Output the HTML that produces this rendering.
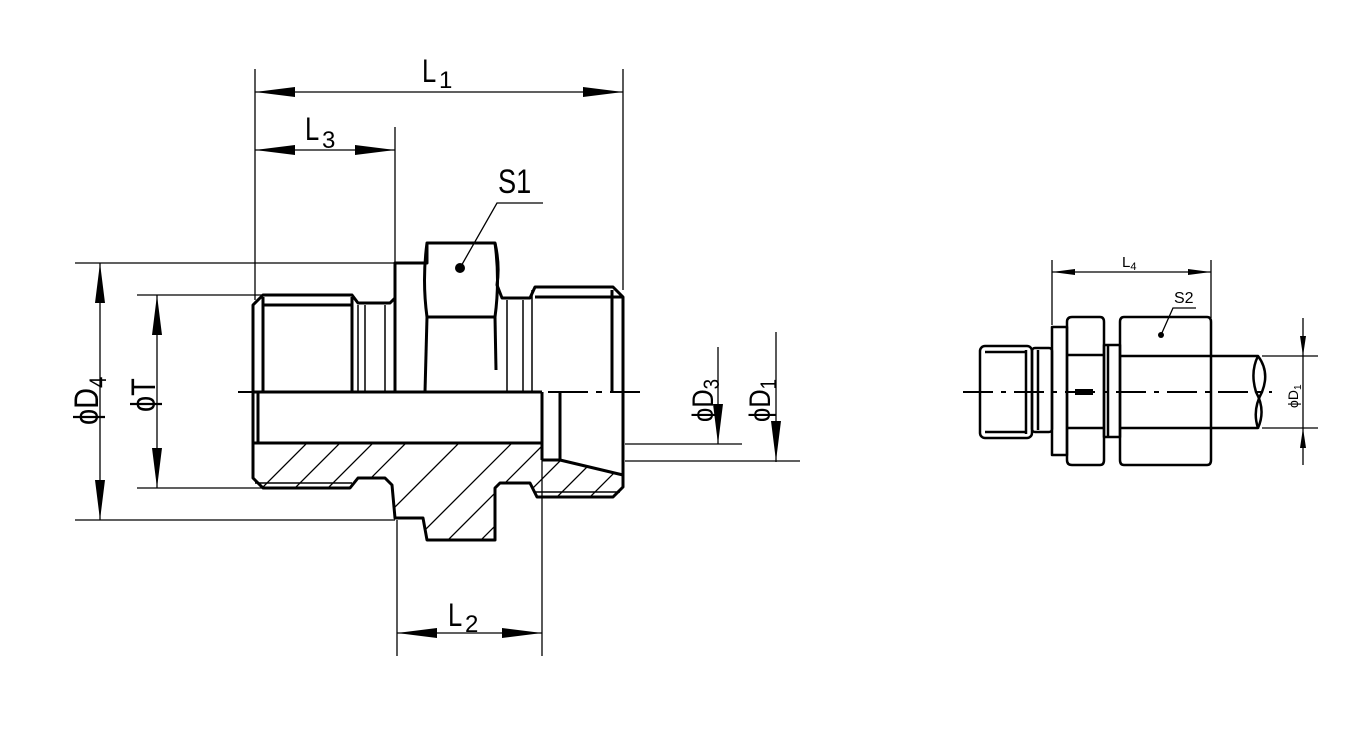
<!DOCTYPE html>
<html><head><meta charset="utf-8"><style>
html,body{margin:0;padding:0;background:#fff;}
svg{display:block;}
text{font-family:"Liberation Sans",sans-serif;fill:#000;}
</style></head><body>
<svg width="1371" height="730" viewBox="0 0 1371 730" xmlns="http://www.w3.org/2000/svg">
<defs>
<clipPath id="sec">
<path d="M253,443 L542,443 L542,460 L560,460 L623,475 L623,487 L613,497 L537,497 L530,483 L500,483 L495,488 L495,540 L427,540 L423,518 L395,518 L392,485 L385,478 L358,478 L350,488 L263,488 L253,478 Z"/>
</clipPath>
</defs>
<g stroke="#000" fill="none">
<g stroke-width="1.3">
<line x1="255" y1="69" x2="255" y2="300"/>
<line x1="623" y1="69" x2="623" y2="290"/>
<line x1="255" y1="92" x2="623" y2="92"/>
<line x1="395" y1="127" x2="395" y2="263"/>
<line x1="255" y1="150" x2="395" y2="150"/>
<polyline points="460,268 497,203 543,203"/>
<line x1="397" y1="520" x2="397" y2="656"/>
<line x1="542" y1="392" x2="542" y2="656"/>
<line x1="397" y1="633" x2="542" y2="633"/>
<line x1="75" y1="263" x2="395" y2="263"/>
<line x1="75" y1="520" x2="395" y2="520"/>
<line x1="100" y1="263" x2="100" y2="520"/>
<line x1="137" y1="295" x2="263" y2="295"/>
<line x1="137" y1="488" x2="263" y2="488"/>
<line x1="157" y1="295" x2="157" y2="488"/>
<line x1="718" y1="347" x2="718" y2="444"/>
<line x1="625" y1="444" x2="742" y2="444"/>
<line x1="776" y1="332" x2="776" y2="462"/>
<line x1="625" y1="461" x2="800" y2="461"/>
</g>
<line x1="238" y1="392" x2="640" y2="392" stroke-width="2" stroke-dasharray="40,8,6,8"/>
<g clip-path="url(#sec)" stroke-width="1.3">
<path d="M230,520 L330,420 M263,520 L363,420 M296,520 L396,420 M329,520 L429,420 M362,540 L482,420 M395,560 L535,420 M428,560 L568,420 M461,560 L601,420 M494,560 L634,420 M527,560 L667,420 M560,560 L700,420 M593,560 L733,420"/>
</g>
<g stroke-width="3" stroke-linejoin="round">
<path d="M253,305 L263,295 L352,295 L358,303 L390,303 L395,298 L395,263 L427,263 L427,243 L495,243 Q500,265 497,285 L502,298 L530,298 L535,287 L613,287 L623,297 L623,487 L613,497 L537,497 L530,483 L500,483 L495,488 L495,540 L427,540 L423,518 L395,518 L392,485 L385,478 L358,478 L350,488 L263,488 L253,478 Z"/>
<path d="M427,243 Q422,280 427,317"/>
<path d="M495,243 Q500,280 495,317"/>
<line x1="263" y1="305" x2="352" y2="305"/>
<line x1="263" y1="297" x2="263" y2="392"/>
<line x1="352" y1="297" x2="352" y2="392"/>
<line x1="395" y1="263" x2="395" y2="392"/>
<line x1="427" y1="317" x2="495" y2="317"/>
<line x1="427" y1="317" x2="425" y2="392"/>
<line x1="495" y1="317" x2="496" y2="370"/>
<line x1="535" y1="297" x2="623" y2="297"/>
<line x1="612" y1="290" x2="612" y2="392"/>
<line x1="253" y1="392" x2="253" y2="478"/>
<line x1="253" y1="443" x2="542" y2="443"/>
<line x1="542" y1="392" x2="542" y2="460"/>
<line x1="560" y1="392" x2="560" y2="460"/>
<line x1="542" y1="460" x2="560" y2="460"/>
<line x1="560" y1="460" x2="623" y2="475"/>
<line x1="258" y1="392" x2="258" y2="443"/>
<line x1="253" y1="392" x2="542" y2="392"/>
</g>
<g stroke-width="1.5">
<line x1="358" y1="305" x2="358" y2="392"/>
<line x1="365" y1="305" x2="365" y2="392"/>
<line x1="385" y1="305" x2="385" y2="392"/>
<line x1="507" y1="300" x2="507" y2="392"/>
<line x1="523" y1="300" x2="523" y2="392"/>
<line x1="532" y1="290" x2="532" y2="392"/>
<line x1="255" y1="483" x2="352" y2="483"/>
<line x1="535" y1="492" x2="620" y2="492"/>
</g>
<circle cx="460" cy="268" r="5" fill="#000" stroke="none"/>

<g stroke-width="1.3">
<line x1="1052" y1="260" x2="1052" y2="325"/>
<line x1="1211" y1="260" x2="1211" y2="318"/>
<line x1="1052" y1="272" x2="1211" y2="272"/>
<polyline points="1161,335 1173,308 1196,308"/>
<line x1="1262" y1="356" x2="1318" y2="356"/>
<line x1="1262" y1="428" x2="1318" y2="428"/>
<line x1="1303" y1="318" x2="1303" y2="465"/>
</g>
<line x1="963" y1="392" x2="1272" y2="392" stroke-width="2" stroke-dasharray="30,8,5,8"/>
<g stroke-width="2.5" stroke-linejoin="round">
<rect x="980" y="346" width="52" height="92" rx="5"/>
<line x1="985" y1="352" x2="1027" y2="352"/>
<line x1="985" y1="432" x2="1027" y2="432"/>
<line x1="1026" y1="350" x2="1026" y2="434"/>
<rect x="1032" y="348" width="20" height="84" rx="3"/>
<line x1="1038" y1="350" x2="1038" y2="430"/>
<rect x="1052" y="327" width="15" height="128"/>
<path d="M1067,322 Q1067,317 1072,317 L1100,317 Q1104,317 1104,322 L1104,460 Q1104,465 1100,465 L1072,465 Q1067,465 1067,460 Z"/>
<line x1="1067" y1="355" x2="1104" y2="355"/>
<line x1="1067" y1="428" x2="1104" y2="428"/>
<rect x="1104" y="345" width="16" height="92"/>
<line x1="1108" y1="345" x2="1108" y2="437"/>
<path d="M1124,317 L1207,317 Q1211,317 1211,322 L1211,460 Q1211,465 1207,465 L1124,465 Q1120,465 1120,460 L1120,322 Q1120,317 1124,317 Z"/>
<line x1="1120" y1="356" x2="1211" y2="356"/>
<line x1="1120" y1="428" x2="1211" y2="428"/>
<path d="M1211,356 L1258,356 Q1270,372 1262,392 Q1252,410 1258,428 L1211,428"/>
<path d="M1258,356 Q1250,372 1256,392 Q1266,410 1258,428"/>
</g>
<circle cx="1161" cy="335" r="3" fill="#000" stroke="none"/>
<rect x="1075" y="389" width="18" height="6" fill="#000" stroke="none"/>
</g>
<g fill="#000">
<polygon points="255,92 295,87 295,97"/>
<polygon points="623,92 583,87 583,97"/>
<polygon points="255,150 295,145 295,155"/>
<polygon points="395,150 355,145 355,155"/>
<polygon points="397,633 437,628 437,638"/>
<polygon points="542,633 502,628 502,638"/>
<polygon points="100,263 95,303 105,303"/>
<polygon points="100,520 95,480 105,480"/>
<polygon points="157,295 152,335 162,335"/>
<polygon points="157,488 152,448 162,448"/>
<polygon points="718,444 713,404 723,404"/>
<polygon points="776,461 771,421 781,421"/>
<polygon points="1052,272 1075,269 1075,275"/>
<polygon points="1211,272 1188,269 1188,275"/>
<polygon points="1303,356 1300,336 1306,336"/>
<polygon points="1303,428 1300,448 1306,448"/>
</g>
<g>
<text transform="translate(422,82) scale(0.8,1)" font-size="32">L</text>
<text x="439" y="88" font-size="24">1</text>
<text transform="translate(305,140) scale(0.8,1)" font-size="32">L</text>
<text x="322" y="148" font-size="24">3</text>
<text transform="translate(498,193) scale(0.8,1)" font-size="34">S1</text>
<text transform="translate(448,626) scale(0.8,1)" font-size="32">L</text>
<text x="465" y="632" font-size="24">2</text>
<text transform="translate(98,425) rotate(-90) scale(0.85,1)" font-size="34">ϕD<tspan font-size="24" dy="8">4</tspan></text>
<text transform="translate(155,412) rotate(-90) scale(0.85,1)" font-size="34">ϕT</text>
<text transform="translate(713,422) rotate(-90) scale(0.85,1)" font-size="30">ϕD<tspan font-size="22" dy="6">3</tspan></text>
<text transform="translate(770,422) rotate(-90) scale(0.85,1)" font-size="30">ϕD<tspan font-size="22" dy="6">1</tspan></text>
<text x="1122" y="267" font-size="15">L<tspan font-size="11" dy="3">4</tspan></text>
<text x="1174" y="303" font-size="16">S2</text>
<text transform="translate(1298,408) rotate(-90)" font-size="14">ϕD<tspan font-size="10" dy="3">1</tspan></text>
</g>
</svg>
</body></html>
